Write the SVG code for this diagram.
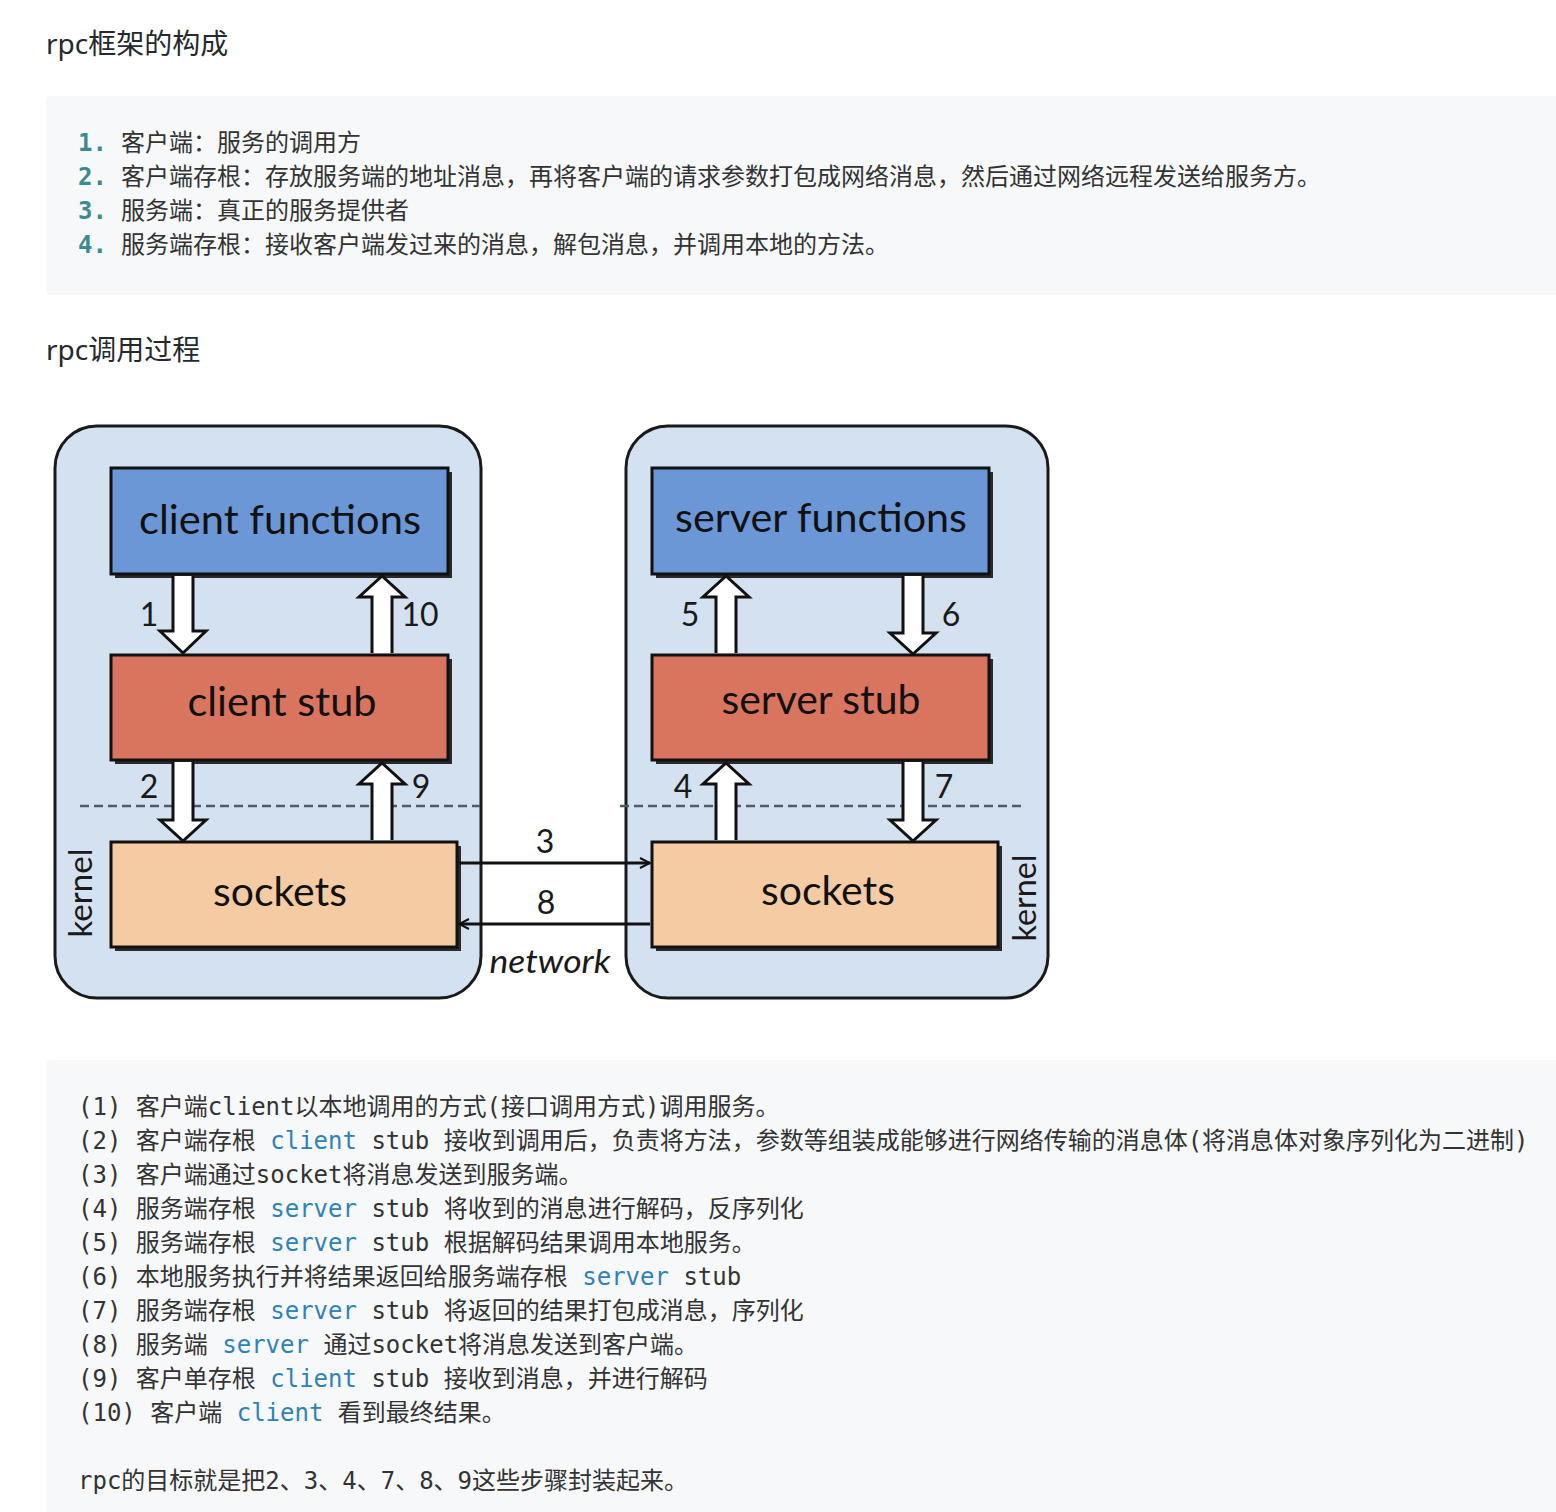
<svg xmlns="http://www.w3.org/2000/svg" width="1556" height="1512" viewBox="0 0 1556 1512">
<defs>
<style>
.h{font-family:"Noto Sans","Noto Sans CJK SC",sans-serif;font-size:28px;fill:#24292e}
.li{font-family:"Noto Sans CJK SC",sans-serif;font-size:24px;fill:#333}
.num{font-family:"DejaVu Sans Mono","Noto Sans CJK SC",monospace;font-size:24px;font-weight:bold;fill:#3b8a8e}
.code{font-family:"DejaVu Sans Mono","Noto Sans CJK SC",monospace;font-size:24px;fill:#333}
.kw{fill:#3182b4}
.outer{fill:#d4e1f1;stroke:#1a1a1a;stroke-width:3}
.box{stroke:#111;stroke-width:3}
.shadow{fill:#2a2a2a}
.fn{fill:#6b97d6}
.stub{fill:#d9745f}
.sock{fill:#f5cba3}
.lbl{font-family:Lato,"Open Sans",sans-serif;font-size:40px;fill:#111;text-anchor:middle}
.n{font-family:Lato,"Open Sans",sans-serif;font-size:32px;fill:#1a1a1a;text-anchor:middle}
.harrow{fill:#fff;stroke:#111;stroke-width:3;stroke-linejoin:miter}
.dash{stroke:#4d5b6e;stroke-width:2.5;stroke-dasharray:9 5;fill:none}
.net{stroke:#111;stroke-width:3;fill:none}
</style>
<marker id="chev" viewBox="0 0 12 12" refX="11" refY="6" markerWidth="12" markerHeight="12" markerUnits="userSpaceOnUse" orient="auto">
<path d="M1,1 L11,6 L1,11" fill="none" stroke="#111" stroke-width="2"/>
</marker>
</defs>
<rect width="1556" height="1512" fill="#fff"/>

<text class="h" x="46" y="54">rpc框架的构成</text>

<rect x="46" y="96" width="1520" height="199" rx="4" fill="#f6f8fa"/>
<text class="num" x="78" y="151">1.</text>
<text class="li" x="121" y="151">客户端：服务的调用方</text>
<text class="num" x="78" y="185">2.</text>
<text class="li" x="121" y="185">客户端存根：存放服务端的地址消息，再将客户端的请求参数打包成网络消息，然后通过网络远程发送给服务方。</text>
<text class="num" x="78" y="219">3.</text>
<text class="li" x="121" y="219">服务端：真正的服务提供者</text>
<text class="num" x="78" y="253">4.</text>
<text class="li" x="121" y="253">服务端存根：接收客户端发过来的消息，解包消息，并调用本地的方法。</text>

<text class="h" x="46" y="360">rpc调用过程</text>

<g id="client-side">
<rect class="outer" x="55" y="426" width="426" height="572" rx="42"/>
</g>
<g id="server-side">
<rect class="outer" x="626" y="426" width="422" height="572" rx="42"/>
</g>

<g id="dashes">
<line class="dash" x1="80" y1="806" x2="480" y2="806"/>
<line class="dash" x1="620" y1="806" x2="1022" y2="806"/>
</g>

<g id="client-functions">
<rect class="shadow" x="115" y="472" width="337" height="106"/>
<rect class="box fn" x="111" y="468" width="337" height="106"/>
<text class="lbl" x="280" y="534" textLength="282" lengthAdjust="spacingAndGlyphs">client functions</text>
</g>
<g id="client-stub">
<rect class="shadow" x="115" y="659" width="337" height="105"/>
<rect class="box stub" x="111" y="655" width="337" height="105"/>
<text class="lbl" x="282" y="716" textLength="189" lengthAdjust="spacingAndGlyphs">client stub</text>
</g>
<g id="client-sockets">
<rect class="shadow" x="115" y="846" width="346" height="105"/>
<rect class="box sock" x="111" y="842" width="346" height="105"/>
<text class="lbl" x="280" y="906" textLength="134" lengthAdjust="spacingAndGlyphs">sockets</text>
</g>

<g id="server-functions">
<rect class="shadow" x="656" y="472" width="337" height="106"/>
<rect class="box fn" x="652" y="468" width="337" height="106"/>
<text class="lbl" x="821" y="532" textLength="292" lengthAdjust="spacingAndGlyphs">server functions</text>
</g>
<g id="server-stub">
<rect class="shadow" x="656" y="659" width="337" height="105"/>
<rect class="box stub" x="652" y="655" width="337" height="105"/>
<text class="lbl" x="821" y="714" textLength="199" lengthAdjust="spacingAndGlyphs">server stub</text>
</g>
<g id="server-sockets">
<rect class="shadow" x="656" y="846" width="346" height="105"/>
<rect class="box sock" x="652" y="842" width="346" height="105"/>
<text class="lbl" x="828" y="905" textLength="134" lengthAdjust="spacingAndGlyphs">sockets</text>
</g>

<g id="connectors">
<path class="harrow" d="M173,576 L173,631 L160,631 L183,653 L206,631 L193,631 L193,576"/>
<path class="harrow" d="M372,653 L372,597 L359,597 L382,576 L405,597 L392,597 L392,653"/>
<path class="harrow" d="M173,762 L173,820 L160,820 L183,841 L206,820 L193,820 L193,762"/>
<path class="harrow" d="M372,840 L372,784 L359,784 L382,763 L405,784 L392,784 L392,840"/>
<path class="harrow" d="M716,653 L716,597 L703,597 L726,576 L749,597 L736,597 L736,653"/>
<path class="harrow" d="M903,576 L903,633 L890,633 L913,654 L936,633 L923,633 L923,576"/>
<path class="harrow" d="M716,840 L716,784 L703,784 L726,763 L749,784 L736,784 L736,840"/>
<path class="harrow" d="M903,762 L903,820 L890,820 L913,841 L936,820 L923,820 L923,762"/>
<line class="net" x1="459" y1="863" x2="650" y2="863" marker-end="url(#chev)"/>
<line class="net" x1="650" y1="924" x2="459" y2="924" marker-end="url(#chev)"/>
</g>

<g id="labels">
<text class="n" x="149" y="626">1</text>
<text class="n" x="420" y="626">10</text>
<text class="n" x="149" y="798">2</text>
<text class="n" x="421" y="798">9</text>
<text class="n" x="690" y="626">5</text>
<text class="n" x="951" y="626">6</text>
<text class="n" x="683" y="798">4</text>
<text class="n" x="944" y="798">7</text>
<text class="n" x="545" y="853">3</text>
<text class="n" x="546" y="914">8</text>
<text class="n" x="550" y="973" font-style="italic" font-size="30" textLength="121" lengthAdjust="spacingAndGlyphs">network</text>
<text class="n" transform="translate(92,893) rotate(-90)" font-size="34" textLength="89" lengthAdjust="spacingAndGlyphs">kernel</text>
<text class="n" transform="translate(1036,898) rotate(-90)" font-size="34" textLength="87" lengthAdjust="spacingAndGlyphs">kernel</text>
</g>

<rect x="46" y="1060" width="1520" height="470" rx="4" fill="#f6f8fa"/>
<text class="code" x="78" y="1115">(1) 客户端client以本地调用的方式(接口调用方式)调用服务。</text>
<text class="code" x="78" y="1149">(2) 客户端存根 <tspan class="kw">client</tspan> stub 接收到调用后，负责将方法，参数等组装成能够进行网络传输的消息体(将消息体对象序列化为二进制)</text>
<text class="code" x="78" y="1183">(3) 客户端通过socket将消息发送到服务端。</text>
<text class="code" x="78" y="1217">(4) 服务端存根 <tspan class="kw">server</tspan> stub 将收到的消息进行解码，反序列化</text>
<text class="code" x="78" y="1251">(5) 服务端存根 <tspan class="kw">server</tspan> stub 根据解码结果调用本地服务。</text>
<text class="code" x="78" y="1285">(6) 本地服务执行并将结果返回给服务端存根 <tspan class="kw">server</tspan> stub</text>
<text class="code" x="78" y="1319">(7) 服务端存根 <tspan class="kw">server</tspan> stub 将返回的结果打包成消息，序列化</text>
<text class="code" x="78" y="1353">(8) 服务端 <tspan class="kw">server</tspan> 通过socket将消息发送到客户端。</text>
<text class="code" x="78" y="1387">(9) 客户单存根 <tspan class="kw">client</tspan> stub 接收到消息，并进行解码</text>
<text class="code" x="78" y="1421">(10) 客户端 <tspan class="kw">client</tspan> 看到最终结果。</text>
<text class="code" x="78" y="1489">rpc的目标就是把2、3、4、7、8、9这些步骤封装起来。</text>
</svg>
